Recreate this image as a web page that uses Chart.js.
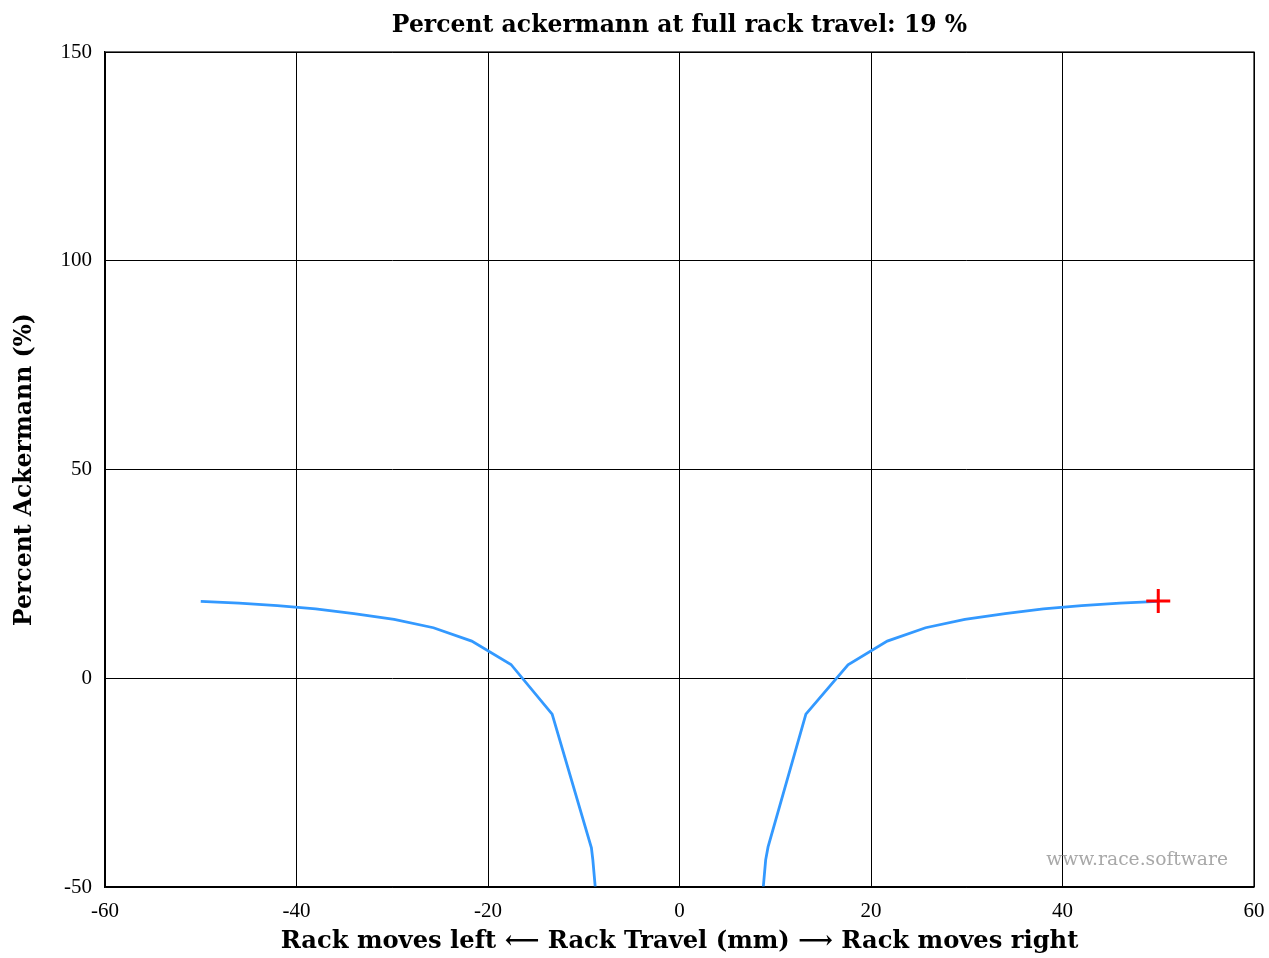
<!DOCTYPE html>
<html>
<head>
<meta charset="utf-8">
<script src="https://cdn.jsdelivr.net/npm/chart.js@4/dist/chart.umd.min.js"></script>
<style>
  html, body { margin: 0; padding: 0; background: #fff; }
  #wrap { width: 1269px; height: 958px; }
</style>
</head>
<body>
<div id="wrap"><canvas id="ack-chart" width="1269" height="958"></canvas></div>
<script>
// Left branch of the curve (rack moving left)
const leftX = [-50, -46, -42, -38, -34, -29.8, -25.7, -21.7, -17.6, -13.3, -9.2, -9.05, -8.8, -8.6];
const leftY = [18.4, 18.0, 17.4, 16.6, 15.5, 14.1, 12.1, 8.9, 3.3, -8.6, -40.6, -43.5, -50, -60];

// Right branch of the curve (rack moving right)
const rightX = [8.6, 8.75, 9.0, 9.25, 13.2, 17.6, 21.7, 25.7, 29.8, 34, 38, 42, 46, 50];
const rightY = [-60, -50, -43.5, -40.4, -8.6, 3.2, 8.9, 12.1, 14.1, 15.5, 16.6, 17.4, 18.0, 18.4];

// Full rack travel marker
const markerX = [50];
const markerY = [18.5];

const xTicks = [-60, -40, -20, 0, 20, 40, 60];
const yTicks = [-50, 0, 50, 100, 150];

const titleText = 'Percent ackermann at full rack travel: 19 %';

const toPoints = (xs, ys) => xs.map((x, i) => ({ x: x, y: ys[i] }));

const frameAndTexts = {
    id: 'frameAndTexts',
    afterDraw(chart) {
        const { ctx, chartArea } = chart;
        ctx.save();
        ctx.strokeStyle = '#000';
        ctx.lineWidth = 1.2;
        ctx.strokeRect(chartArea.left, chartArea.top, chartArea.right - chartArea.left, chartArea.bottom - chartArea.top);

        // title, centred over the plot area
        ctx.fillStyle = '#000';
        ctx.font = 'bold 23.5px "DejaVu Serif"';
        ctx.textAlign = 'center';
        ctx.textBaseline = 'middle';
        ctx.fillText(titleText, (chartArea.left + chartArea.right) / 2, 26);

        // watermark
        ctx.fillStyle = '#a8a8a8';
        ctx.font = '18.7px "DejaVu Serif"';
        ctx.textAlign = 'right';
        ctx.textBaseline = 'alphabetic';
        ctx.fillText('www.race.software', chartArea.right - 26, chartArea.bottom - 22);
        ctx.restore();
    }
};

const ctx = document.getElementById('ack-chart').getContext('2d');
new Chart(ctx, {
    type: 'scatter',
    data: {
        datasets: [
            {
                data: toPoints(leftX, leftY),
                showLine: true,
                borderColor: '#3399ff',
                borderWidth: 2.8,
                pointRadius: 0,
                tension: 0,
                clip: 0,
                order: 2
            },
            {
                data: toPoints(rightX, rightY),
                showLine: true,
                borderColor: '#3399ff',
                borderWidth: 2.8,
                pointRadius: 0,
                tension: 0,
                clip: 0,
                order: 2
            },
            {
                data: toPoints(markerX, markerY),
                showLine: false,
                pointStyle: 'cross',
                pointRadius: 12,
                borderColor: '#ff0000',
                borderWidth: 3,
                order: 1
            }
        ]
    },
    options: {
        responsive: false,
        animation: false,
        layout: { padding: { left: 0, right: 15, top: 52, bottom: 0 } },
        plugins: {
            legend: { display: false },
            tooltip: { enabled: false },
            title: { display: false }
        },
        scales: {
            x: {
                type: 'linear',
                min: -60,
                max: 60,
                afterFit: s => { s.height = 71; s.paddingLeft = 0; s.paddingRight = 0; },
                afterBuildTicks: s => { s.ticks = xTicks.map(v => ({ value: v })); },
                grid: { color: '#000', lineWidth: 1, drawTicks: false },
                border: { display: true, color: '#000', width: 1.2 },
                ticks: {
                    color: '#000',
                    padding: 12,
                    maxRotation: 0,
                    font: { family: '"Liberation Serif"', size: 21 }
                },
                title: {
                    display: true,
                    text: 'Rack moves left \u27F5 Rack Travel (mm) \u27F6 Rack moves right',
                    color: '#000',
                    font: { family: '"DejaVu Serif"', size: 24.2, weight: 'bold' },
                    padding: { top: 0, bottom: 2 }
                }
            },
            y: {
                type: 'linear',
                min: -50,
                max: 150,
                afterFit: s => { s.width = 105; s.paddingTop = 0; s.paddingBottom = 0; },
                afterBuildTicks: s => { s.ticks = yTicks.map(v => ({ value: v })); },
                grid: { color: '#000', lineWidth: 1, drawTicks: false },
                border: { display: true, color: '#000', width: 1.2 },
                ticks: {
                    color: '#000',
                    padding: 13,
                    font: { family: '"Liberation Serif"', size: 21 }
                },
                title: {
                    display: true,
                    text: 'Percent Ackermann (%)',
                    color: '#000',
                    font: { family: '"DejaVu Serif"', size: 23.5, weight: 'bold' },
                    padding: { top: 11, bottom: 0 }
                }
            }
        }
    },
    plugins: [frameAndTexts]
});
</script>
</body>
</html>
